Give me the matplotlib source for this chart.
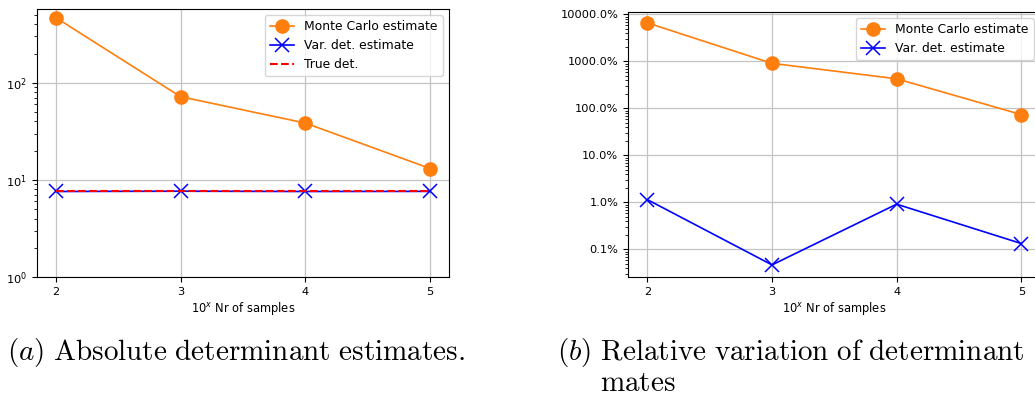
import matplotlib
matplotlib.use("Agg")
import matplotlib.pyplot as plt
from matplotlib.ticker import PercentFormatter, LogLocator, NullFormatter

# exponent of number of samples (10^x)
exps = [2, 3, 4, 5]
# absolute determinant estimates
mc_abs = [470, 72, 38.5, 13.1]
var_abs = [7.6, 7.65, 7.6, 7.62]
true_det = [7.62, 7.62, 7.62, 7.62]
# relative variation, in percent
mc_rel = [6600, 910, 427, 74]
var_rel = [1.15, 0.047, 0.92, 0.134]

orange = "#ff7f0e"
blue = "#0000ff"
tick_fs = 8.2
leg_fs = 8.9
cap_fs = 21

fig = plt.figure(figsize=(10.35, 3.96), dpi=100)

# (a) absolute values
ax1 = fig.add_axes([0.0357, 0.3005, 0.398, 0.677])
ax1.plot(exps, mc_abs, "-o", color=orange, markersize=9.5, lw=1.2, label="Monte Carlo estimate")
ax1.plot(exps, var_abs, "-x", color=blue, markersize=9.5, lw=1.2, mew=1.1, label="Var. det. estimate")
ax1.plot(exps, true_det, "--", color="red", lw=1.5, label="True det.")
ax1.set_yscale("log")
ax1.set_ylim(1, 577)
ax1.set_xlim(1.85, 5.15)
ax1.set_xticks(exps)
ax1.grid(True, color="#c4c4c4", lw=0.9)
ax1.tick_params(labelsize=tick_fs)
ax1.set_xlabel(r"$10^x$ Nr of samples", fontsize=8.3, labelpad=2)
ax1.legend(loc="upper right", fontsize=leg_fs)

# (b) relative variation
ax2 = fig.add_axes([0.6068, 0.3005, 0.398, 0.669])
ax2.plot(exps, mc_rel, "-o", color=orange, markersize=9.5, lw=1.2, label="Monte Carlo estimate")
ax2.plot(exps, var_rel, "-x", color=blue, markersize=9.5, lw=1.2, mew=1.1, label="Var. det. estimate")
ax2.set_yscale("log")
ax2.set_ylim(0.026, 11200)
ax2.set_xlim(1.845, 5.15)
ax2.set_xticks(exps)
ax2.yaxis.set_major_locator(LogLocator(base=10, numticks=12))
ax2.yaxis.set_minor_locator(LogLocator(base=10, subs=range(2, 10), numticks=12))
ax2.yaxis.set_major_formatter(PercentFormatter(xmax=100, decimals=1))
ax2.yaxis.set_minor_formatter(NullFormatter())
ax2.grid(True, color="#c4c4c4", lw=0.9)
ax2.tick_params(labelsize=tick_fs)
ax2.set_xlabel(r"$10^x$ Nr of samples", fontsize=8.3, labelpad=2)
ax2.legend(loc="upper right", fontsize=leg_fs)

# captions
fig.text(0.007, 0.091, r"$(a)\ \mathrm{Absolute\ determinant\ estimates.}$",
         fontsize=cap_fs, math_fontfamily="cm", va="baseline")
fig.text(0.538, 0.091, r"$(b)\ \mathrm{Relative\ variation\ of\ determinant}$",
         fontsize=cap_fs, math_fontfamily="cm", va="baseline")
fig.text(0.58, 0.012, r"$\mathrm{mates}$",
         fontsize=cap_fs, math_fontfamily="cm", va="baseline")

fig.savefig("out.png", dpi=100)
